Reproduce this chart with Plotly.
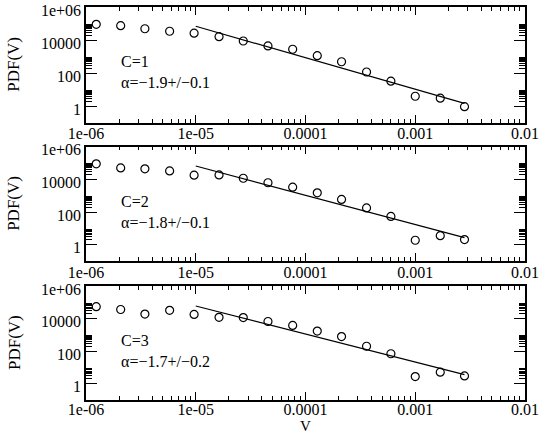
import plotly.graph_objects as go

# ---- data ----
v_bins = [1.24e-6, 2.07e-6, 3.44e-6, 5.78e-6, 9.66e-6, 1.63e-5, 2.71e-5, 4.55e-5,
          7.64e-5, 1.28e-4, 2.13e-4, 3.60e-4, 6.0e-4, 1.0e-3, 1.69e-3, 2.81e-3]
pdf_c1 = [8.9e4, 7.4e4, 4.8e4, 3.4e4, 2.6e4, 1.6e4, 8.7e3, 4.4e3,
          2.75e3, 1.12e3, 480, 115, 32, 3.9, 3.0, 0.91]
pdf_c2 = [8.9e4, 5.0e4, 4.4e4, 3.3e4, 1.8e4, 1.86e4, 1.17e4, 6.2e3,
          3.3e3, 1.5e3, 590, 178, 54, 1.86, 3.55, 2.04]
pdf_c3 = [5.4e4, 3.6e4, 1.9e4, 3.2e4, 1.8e4, 1.2e4, 1.15e4, 6.6e3,
          3.8e3, 1.7e3, 780, 200, 69, 2.75, 5.1, 3.0]
fit_x = [1e-5, 2.81e-3]
fit_c1 = [6.8e4, 1.45]
fit_c2 = [6.6e4, 2.7]
fit_c3 = [5.9e4, 3.6]
panel_labels = [("C=1", "α=−1.9+/−0.1"), ("C=2", "α=−1.8+/−0.1"), ("C=3", "α=−1.7+/−0.2")]

x_tickvals = [1e-6, 1e-5, 1e-4, 1e-3, 1e-2]
x_ticktext = ["1e-06", "1e-05", "0.0001", "0.001", "0.01"]
y_tickvals = [1, 100, 1e4, 1e6]
y_ticktext = ["1", "100", "10000", "1e+06"]

# ---- style / layout ----
FONT = "Liberation Serif"
FS = 16
W, H = 545, 436
ML, MR, MT, MB = 86, 20, 7, 36
ph = H - MT - MB
pw = W - ML - MR
panels_px = [(7, 122.5), (146.7, 261), (286, 400)]
domains = [[1 - (b - MT) / ph, 1 - (t - MT) / ph] for t, b in panels_px]
x_standoffs = [-4, -4, -6]

x_minor = [k * 10.0 ** e for e in range(-6, -2) for k in range(2, 10)]
y_minor = [k * m for m in [1, 100, 1e4] for k in range(2, 10)]

fig = go.Figure()
series = [(pdf_c1, fit_c1), (pdf_c2, fit_c2), (pdf_c3, fit_c3)]
for i, (pdf, fit) in enumerate(series):
    xa = "x" if i == 0 else f"x{i+1}"
    ya = "y" if i == 0 else f"y{i+1}"
    fig.add_trace(go.Scatter(x=v_bins, y=pdf, mode="markers", xaxis=xa, yaxis=ya,
                             marker=dict(symbol="circle-open", size=8, color="black",
                                         line=dict(width=1.2, color="black")),
                             showlegend=False, cliponaxis=False))
    fig.add_trace(go.Scatter(x=fit_x, y=fit, mode="lines", xaxis=xa, yaxis=ya,
                             line=dict(color="black", width=1.2), showlegend=False))

layout = dict(template="none", width=W, height=H,
              margin=dict(l=ML, r=MR, t=MT, b=MB, autoexpand=False),
              plot_bgcolor="white", paper_bgcolor="white",
              font=dict(family=FONT, size=FS, color="black"), showlegend=False)

for i in range(3):
    xk = "xaxis" if i == 0 else f"xaxis{i+1}"
    yk = "yaxis" if i == 0 else f"yaxis{i+1}"
    ya = "y" if i == 0 else f"y{i+1}"
    xa = "x" if i == 0 else f"x{i+1}"
    layout[xk] = dict(type="log", range=[-6, -2], domain=[0, 1], anchor=ya, automargin=False,
                      tickmode="array", tickvals=x_tickvals, ticktext=x_ticktext,
                      ticks="inside", ticklen=8, tickwidth=1.2, tickcolor="black",
                      showline=True, linecolor="black", linewidth=1.5, mirror="allticks",
                      showgrid=False, zeroline=False, ticklabeloverflow="allow",
                      ticklabelstandoff=x_standoffs[i],
                      minor=dict(tickmode="array", tickvals=x_minor, ticks="inside",
                                 ticklen=4, tickwidth=1.2, tickcolor="black", showgrid=False),
                      tickfont=dict(family=FONT, size=FS))
    layout[yk] = dict(type="log", range=[-1, 6.0001], domain=domains[i], anchor=xa, automargin=False,
                      tickmode="array", tickvals=y_tickvals, ticktext=y_ticktext,
                      ticks="inside", ticklen=11, tickwidth=1.2, tickcolor="black",
                      showline=True, linecolor="black", linewidth=1.5, mirror="allticks",
                      showgrid=False, zeroline=False, ticklabeloverflow="allow",
                      ticklabelshift=3,
                      minor=dict(tickmode="array", tickvals=y_minor, ticks="inside",
                                 ticklen=6, tickwidth=1.2, tickcolor="black", showgrid=False),
                      tickfont=dict(family=FONT, size=FS))

AFS = 16
annotations = []
for i, (l1, l2) in enumerate(panel_labels):
    t, b = panels_px[i]
    hpx = b - t
    xd = "x domain" if i == 0 else f"x{i+1} domain"
    yd = "y domain" if i == 0 else f"y{i+1} domain"
    annotations.append(dict(text=l1 + "<br>" + l2, xref=xd, yref=yd, x=(120 - ML) / pw,
                            y=1 - 65 / hpx, xanchor="left", yanchor="middle", align="left",
                            showarrow=False, borderpad=0, font=dict(family=FONT, size=AFS)))
    annotations.append(dict(text="PDF(V)", xref="paper", yref=yd,
                            x=(14 - ML) / pw, y=0.5, xanchor="center",
                            yanchor="middle", textangle=-90, showarrow=False,
                            font=dict(family=FONT, size=17)))
annotations.append(dict(text="V", xref="paper", yref="paper", x=0.5,
                        y=-(426 - (H - MB)) / ph, xanchor="center", yanchor="middle",
                        showarrow=False, borderpad=0, font=dict(family=FONT, size=15)))
layout["annotations"] = annotations

fig.update_layout(**layout)
fig.write_html("out.html", config={"displayModeBar": False},
               post_script="document.body.style.margin='0';document.body.style.padding='0';"
                           "document.documentElement.style.overflow='hidden';")
